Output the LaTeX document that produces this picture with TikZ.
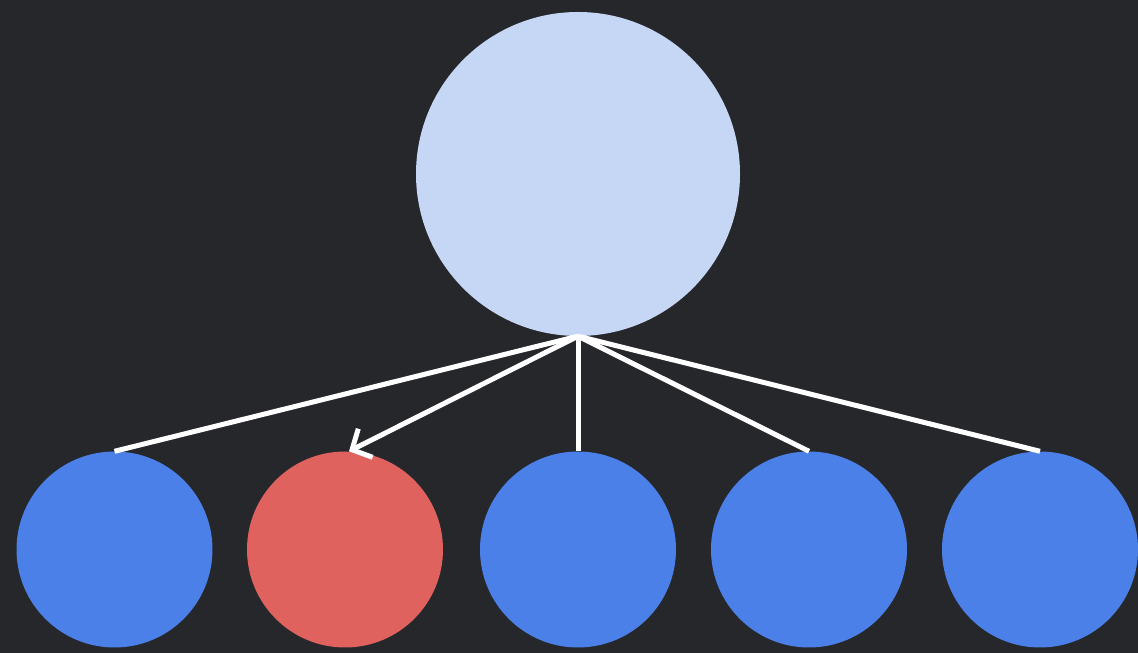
\documentclass[tikz,border=0pt]{standalone}
\usetikzlibrary{arrows.meta}
\definecolor{bgc}{HTML}{26272B}
\definecolor{topc}{HTML}{C6D7F6}
\definecolor{bluec}{HTML}{4A80E8}
\definecolor{redc}{HTML}{E0625E}
\tikzset{
  root/.style={circle, fill=topc, minimum size=324pt, inner sep=0pt},
  leaf/.style={circle, fill=bluec, minimum size=196pt, inner sep=0pt},
  hot/.style={leaf, fill=redc},
  link/.style={draw=white, line width=5pt},
}
\begin{document}
\begin{tikzpicture}[x=1pt,y=1pt]
\fill[bgc] (0,0) rectangle (1138,653);
\useasboundingbox (0,0) rectangle (1138,653);
\node[root] (top) at (578,479) {};
\node[leaf] (c1) at (114.5,103.5) {};
\node[hot]  (c2) at (345,103.5) {};
\node[leaf] (c3) at (578,103.5) {};
\node[leaf] (c4) at (809,103.5) {};
\node[leaf] (c5) at (1040,103.5) {};
\draw[link] (top.south) -- (c1.north);
\draw[link, -{Straight Barb[length=15pt,width=32pt,line width=5pt]}] (top.south) -- ([xshift=4pt]c2.north);
\draw[link] (top.south) -- (c3.north);
\draw[link] (top.south) -- (c4.north);
\draw[link] (top.south) -- (c5.north);
\end{tikzpicture}
\end{document}
